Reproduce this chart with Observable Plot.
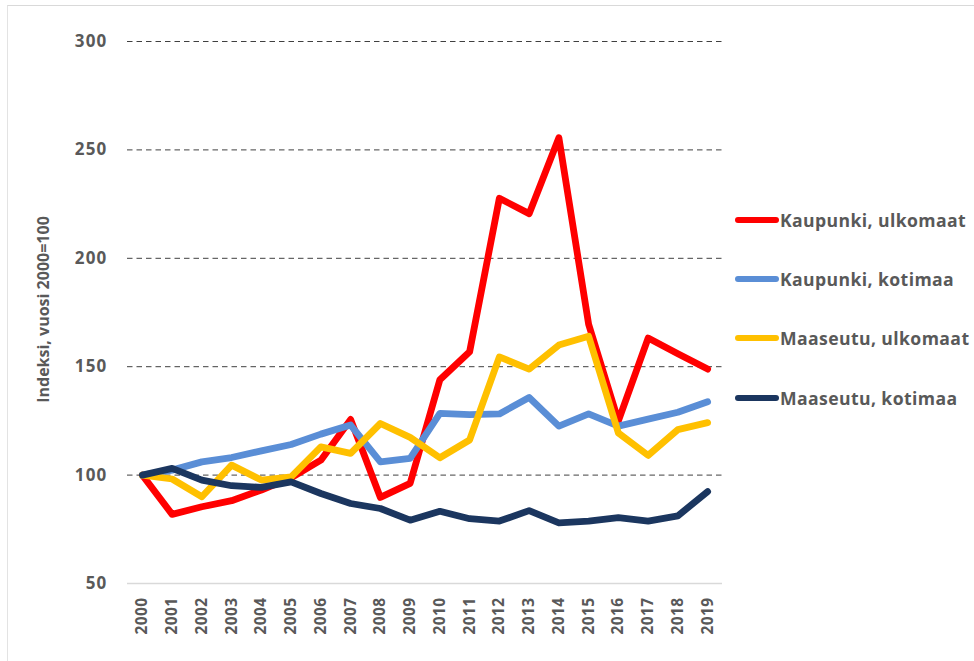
<!DOCTYPE html>
<html>
<head>
<meta charset="utf-8">
<script src="https://cdn.jsdelivr.net/npm/d3@7"></script>
<script src="https://cdn.jsdelivr.net/npm/@observablehq/plot@0.6"></script>
<style>
  html, body { margin: 0; padding: 0; background: #fff; }
  #wrap { position: relative; width: 974px; height: 661px; overflow: hidden; font-family: "Open Sans", sans-serif; }
  #frame { position: absolute; left: 7px; top: 5px; right: -2px; bottom: -2px; border-top: 1.5px solid #d9d9d9; border-left: 1.5px solid #e3e3e3; pointer-events: none; }
  #chart { position: absolute; left: 0; top: 0; }
  #chart g[aria-label="y-axis tick label"] text { letter-spacing: 1.2px; }
  #chart g[aria-label="x-axis tick label"] text { letter-spacing: 0.4px; }
  .leg { position: absolute; left: 735px; height: 26px; display: flex; align-items: center; }
  .leg .sw { width: 44px; height: 6.5px; border-radius: 3.5px; }
  .leg .tx { margin-left: 1px; font-family: "Open Sans", sans-serif; font-weight: bold; font-size: 17.6px; letter-spacing: 0.4px; color: #595959; white-space: nowrap; }
</style>
</head>
<body>
<div id="wrap">
  <div id="chart"></div>
  <div id="frame"></div>
  <div id="legend"></div>
</div>
<script>
const years = [2000, 2001, 2002, 2003, 2004, 2005, 2006, 2007, 2008, 2009, 2010, 2011, 2012, 2013, 2014, 2015, 2016, 2017, 2018, 2019];
const seriesNames = ["Kaupunki, ulkomaat", "Kaupunki, kotimaa", "Maaseutu, ulkomaat", "Maaseutu, kotimaa"];
const seriesColors = ["#ff0000", "#5a8ed6", "#ffc000", "#1b365f"];
const kaupunkiUlkomaat = [100, 81.9, 85.4, 88.2, 93.1, 98.8, 106.9, 125.7, 89.7, 96.2, 144, 156.9, 227.7, 220.6, 255.6, 169.6, 125, 163.2, 156, 148.9];
const kaupunkiKotimaa = [100, 102.3, 106.1, 108.1, 111.2, 114.1, 118.9, 123.1, 106.1, 107.7, 128.5, 127.9, 128.2, 135.8, 122.6, 128.2, 122.6, 125.8, 129, 133.8];
const maaseutuUlkomaat = [100, 98.2, 90, 104.6, 97.7, 99.2, 113, 110, 123.8, 117.4, 108, 116.2, 154.5, 148.9, 160, 164, 119.4, 109.1, 121, 124.2];
const maaseutuKotimaa = [100, 103.1, 97.7, 95.1, 94.3, 96.9, 91.5, 86.9, 84.6, 79.2, 83.3, 79.9, 78.8, 83.6, 78, 78.8, 80.4, 78.8, 81.2, 92.4];
const yTicks = [50, 100, 150, 200, 250, 300];
const gridTicks = [100, 150, 200, 250, 300];
const yTitle = "Indeksi, vuosi 2000=100";

const seriesValues = [kaupunkiUlkomaat, kaupunkiKotimaa, maaseutuUlkomaat, maaseutuKotimaa];
const rows = [];
seriesNames.forEach((name, i) => {
  years.forEach((yr, j) => rows.push({series: name, year: yr, value: seriesValues[i][j]}));
});

const textColor = "#595959";
const chart = Plot.plot({
  width: 974,
  height: 661,
  marginLeft: 127,
  marginRight: 252,
  marginTop: 41,
  marginBottom: 78,
  style: {fontFamily: "'Open Sans', sans-serif", background: "transparent"},
  x: {type: "point", domain: years, padding: 0.5, round: false},
  y: {domain: [50, 300]},
  color: {domain: seriesNames, range: seriesColors},
  marks: [
    Plot.ruleY(gridTicks, {stroke: "#404040", strokeWidth: 1, strokeDasharray: "5.5,4"}),
    Plot.ruleY([50], {stroke: "#d9d9d9", strokeWidth: 1.5}),
    Plot.axisY({ticks: yTicks, tickSize: 0, tickPadding: 20, fontSize: 17, fontWeight: "bold", color: textColor, label: null}),
    Plot.axisX({tickRotate: -90, tickSize: 0, tickPadding: 14, fontSize: 15.5, fontWeight: "bold", color: textColor, label: null, tickFormat: d => String(d)}),
    Plot.text([yTitle], {frameAnchor: "left", textAnchor: "middle", dx: -84, dy: -3, rotate: -90, text: d => d, fontSize: 16, fontWeight: "bold", fill: textColor}),
    Plot.line(rows, {x: "year", y: "value", z: "series", stroke: "series", strokeWidth: 6.8, strokeLinejoin: "round", strokeLinecap: "round"})
  ]
});
document.getElementById("chart").appendChild(chart);

const legend = document.getElementById("legend");
const legendY = [220, 279, 338, 398];
seriesNames.forEach((name, i) => {
  const item = document.createElement("div");
  item.className = "leg";
  item.style.top = (legendY[i] - 13) + "px";
  item.innerHTML = `<div class="sw" style="background:${seriesColors[i]}"></div><div class="tx">${name}</div>`;
  legend.appendChild(item);
});
</script>
</body>
</html>
